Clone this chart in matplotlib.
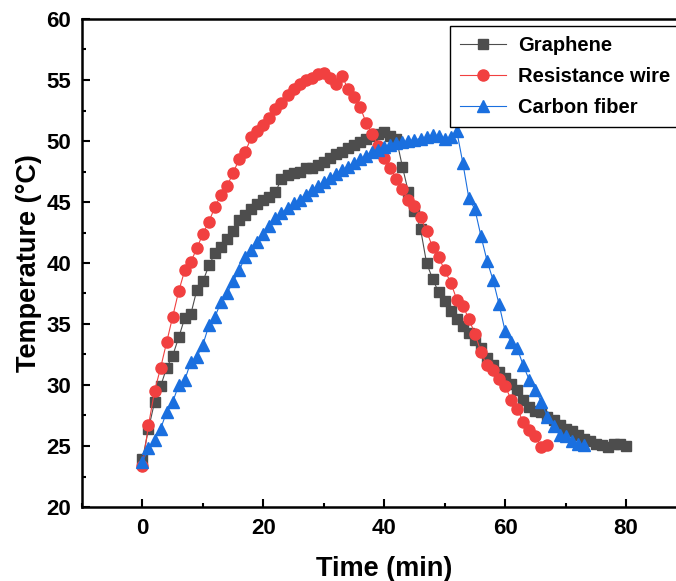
import numpy as np
import matplotlib
matplotlib.use('Agg')
import matplotlib.pyplot as plt
from matplotlib.ticker import MultipleLocator

# dados (temperatura em °C, uma leitura por minuto)
grafeno = [23.9, 26.4, 28.6, 29.9, 31.4, 32.4, 33.9, 35.5, 35.8, 37.8,
           38.5, 39.8, 40.8, 41.3, 42.0, 42.6, 43.5, 43.9, 44.4, 44.8,
           45.2, 45.4, 45.8, 46.9, 47.2, 47.4, 47.5, 47.8, 47.8, 48.0,
           48.3, 48.6, 48.9, 49.1, 49.4, 49.7, 49.9, 50.2, 50.4, 50.6,
           50.7, 50.4, 50.2, 47.9, 45.8, 44.3, 42.8, 40.0, 38.7, 37.6,
           36.9, 36.1, 35.4, 34.8, 34.3, 33.7, 33.0, 32.2, 31.6, 31.1,
           30.6, 30.1, 29.6, 28.8, 28.2, 27.9, 27.8, 27.4, 27.1, 26.7,
           26.4, 26.2, 25.9, 25.6, 25.4, 25.2, 25.1, 24.9, 25.2, 25.2,
           25.0]

fio_resistencia = [23.4, 26.7, 29.5, 31.4, 33.5, 35.6, 37.7, 39.4, 40.1, 41.2,
                   42.4, 43.4, 44.6, 45.6, 46.3, 47.4, 48.5, 49.1, 50.3, 50.8,
                   51.3, 51.9, 52.6, 53.1, 53.8, 54.3, 54.7, 55.0, 55.2, 55.5,
                   55.6, 55.2, 54.7, 55.3, 54.3, 53.6, 52.8, 51.5, 50.6, 49.6,
                   48.6, 47.8, 46.9, 46.1, 45.2, 44.7, 43.8, 42.6, 41.3, 40.5,
                   39.4, 38.4, 37.0, 36.5, 35.4, 34.2, 32.7, 31.6, 31.2, 30.5,
                   29.9, 28.8, 28.0, 27.0, 26.3, 25.8, 24.9, 25.1]

fibra_carbono = [23.7, 24.8, 25.5, 26.4, 27.8, 28.6, 30.0, 30.4, 31.9, 32.3,
                 33.3, 34.9, 35.6, 36.8, 37.5, 38.5, 39.4, 40.5, 41.1, 41.7,
                 42.4, 43.0, 43.7, 44.1, 44.5, 44.9, 45.2, 45.6, 46.0, 46.3,
                 46.6, 47.0, 47.3, 47.6, 47.9, 48.2, 48.5, 48.8, 49.1, 49.3,
                 49.5, 49.7, 49.8, 49.9, 50.0, 50.1, 50.2, 50.3, 50.5, 50.4,
                 50.2, 50.3, 50.8, 48.2, 45.3, 44.4, 42.2, 40.2, 38.6, 36.6,
                 34.4, 33.5, 33.0, 31.6, 30.4, 29.6, 28.6, 27.4, 26.6, 25.9,
                 25.8, 25.4, 25.2, 25.1]

# tempos em minutos
t_grafeno = list(range(len(grafeno)))
t_fio = list(range(len(fio_resistencia)))
t_fibra = list(range(len(fibra_carbono)))

plt.rcParams['font.family'] = ['Liberation Sans', 'DejaVu Sans']
plt.rcParams['font.weight'] = 'bold'

fig = plt.figure(figsize=(6.76, 5.81), dpi=100)
# eixo um pouco maior que a figura, como no original (lado direito cortado)
ax = fig.add_axes([82 / 676, 74 / 581, 604.5 / 676, 488 / 581])

ax.plot(t_grafeno, grafeno, color='#4d4d4d', lw=0.8, marker='s', ms=6.8,
        label='Graphene')
ax.plot(t_fio, fio_resistencia, color='#f14040', lw=0.8, marker='o', ms=8,
        label='Resistance wire')
ax.plot(t_fibra, fibra_carbono, color='#1a6fdf', lw=0.8, marker='^', ms=8.5,
        label='Carbon fiber')

ax.set_xlim(-10, 90)
ax.set_ylim(20, 60)
ax.xaxis.set_major_locator(MultipleLocator(20))
ax.xaxis.set_minor_locator(MultipleLocator(10))
ax.yaxis.set_major_locator(MultipleLocator(5))
ax.yaxis.set_minor_locator(MultipleLocator(2.5))

for s in ax.spines.values():
    s.set_linewidth(1.8)
ax.tick_params(which='both', direction='in', top=False, right=False, width=1.5)
ax.tick_params(which='major', length=6, labelsize=16, pad=8)
ax.tick_params(which='minor', length=3)
for lab in ax.get_xticklabels() + ax.get_yticklabels():
    lab.set_fontweight('bold')

ax.set_xlabel('Time (min)', fontsize=19.5, fontweight='bold', labelpad=12)
ax.set_ylabel('Temperature (°C)', fontsize=19.5, fontweight='bold', labelpad=3)

leg = ax.legend(loc='upper left', bbox_to_anchor=(450 / 676, 1 - 26 / 581),
                bbox_transform=fig.transFigure, fontsize=14.5, frameon=True,
                fancybox=False, edgecolor='black', framealpha=1,
                handlelength=2.3, borderpad=0.5, labelspacing=0.6,
                handletextpad=0.6, borderaxespad=0)
leg.get_frame().set_linewidth(1.0)
for txt in leg.get_texts():
    txt.set_fontweight('bold')

fig.savefig('out.png', dpi=100)
